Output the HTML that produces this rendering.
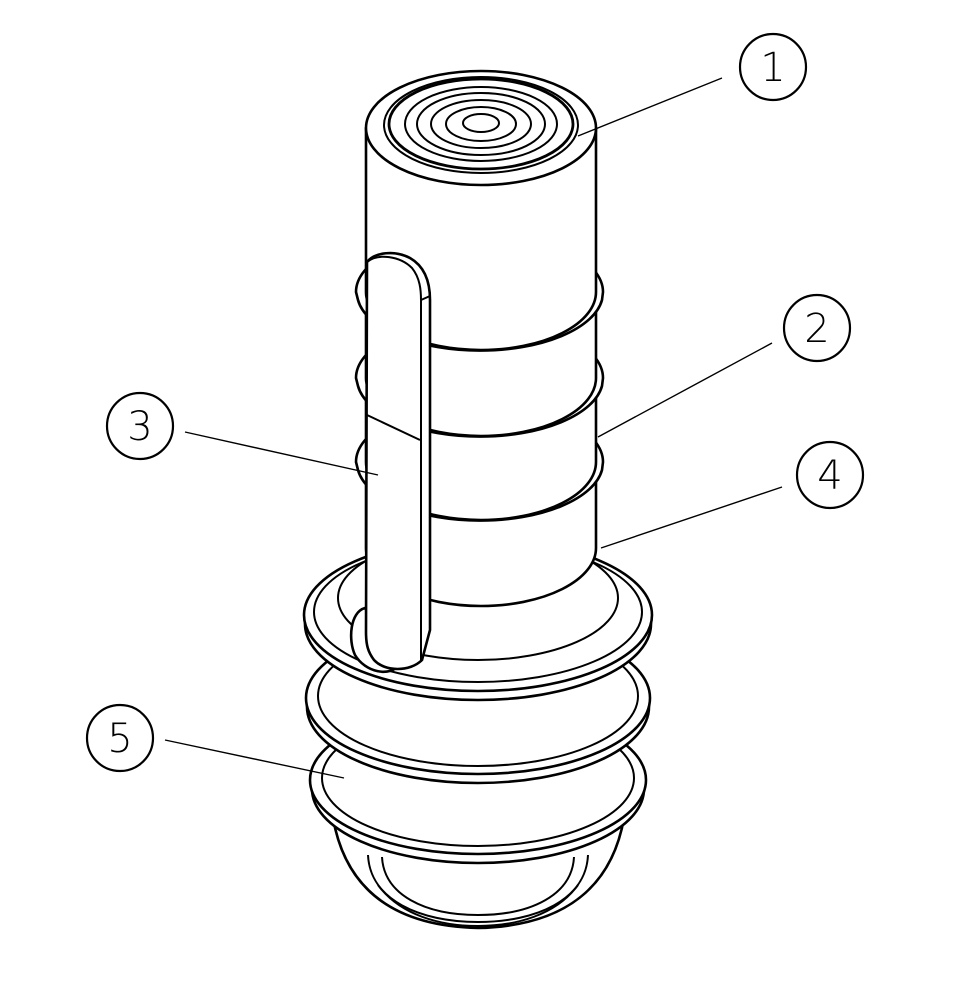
<!DOCTYPE html>
<html><head><meta charset="utf-8"><style>
html,body{margin:0;padding:0;background:#fff;}
svg{display:block;}
text{font-family:"DejaVu Sans","Liberation Sans",sans-serif;font-size:40px;font-weight:200;}
</style></head><body>
<svg width="973" height="993" viewBox="0 0 973 993" xmlns="http://www.w3.org/2000/svg">
<g fill="#fff" stroke="#000" stroke-width="2.6" stroke-linejoin="round">
  <!-- dome -->
  <path d="M333,818 C345,886 390,926 478,928 C566,926 612,886 624,818 Z"/>
  <path d="M368,855 C370,900 420,922 478,922 C536,922 586,900 588,855" fill="none" stroke-width="2"/>
  <path d="M382,857 C384,895 425,915 478,915 C531,915 572,895 574,857" fill="none" stroke-width="2"/>
  <path d="M378,885 C400,915 440,926 478,926 C516,926 556,915 578,885" fill="none" stroke-width="2"/>
  <!-- flange 3 -->
  <ellipse cx="478" cy="789" rx="166" ry="74"/>
  <ellipse cx="478" cy="780" rx="168" ry="74"/>
  <ellipse cx="478" cy="778" rx="156" ry="68" fill="none" stroke-width="2"/>
  <!-- flange 2 -->
  <ellipse cx="478" cy="707" rx="171" ry="76"/>
  <ellipse cx="478" cy="698" rx="172" ry="76"/>
  <ellipse cx="478" cy="696" rx="160" ry="70" fill="none" stroke-width="2"/>
  <!-- flange 1 -->
  <ellipse cx="478" cy="624" rx="173" ry="76"/>
  <ellipse cx="478" cy="615" rx="174" ry="76"/>
  <ellipse cx="478" cy="612" rx="164" ry="70" fill="none" stroke-width="2"/>
  <ellipse cx="478" cy="598" rx="140" ry="62" fill="none" stroke-width="2"/>
  <!-- lower cylinder segment -->
  <path d="M366,462 L366,548 A115,58 0 0 0 596,548 L596,462 Z"/>
  <!-- ring 3 -->
  <path d="M356,462 L358,470 A123,58 0 0 0 602,470 L603,462 A123,58 0 0 0 356,462 Z"/>
  <path d="M366,378 L366,462 A115,58 0 0 0 596,462 L596,378 Z"/>
  <!-- ring 2 -->
  <path d="M356,378 L358,386 A123,58 0 0 0 602,386 L603,378 A123,58 0 0 0 356,378 Z"/>
  <path d="M366,292 L366,378 A115,58 0 0 0 596,378 L596,292 Z"/>
  <!-- ring 1 -->
  <path d="M356,292 L358,300 A123,58 0 0 0 602,300 L603,292 A123,58 0 0 0 356,292 Z"/>
  <!-- top cylinder -->
  <path d="M366,128 L366,292 A115,58 0 0 0 596,292 L596,128 Z"/>
  <ellipse cx="481" cy="128" rx="115" ry="57"/>
  <g fill="none" stroke-width="2">
    <ellipse cx="481" cy="125" rx="97" ry="48"/>
    <ellipse cx="481" cy="124" rx="92" ry="45" stroke-width="2.8"/>
    <ellipse cx="481" cy="124" rx="76" ry="37"/>
    <ellipse cx="481" cy="124" rx="64" ry="31"/>
    <ellipse cx="481" cy="124" rx="50" ry="24"/>
    <ellipse cx="481" cy="124" rx="35" ry="17"/>
    <ellipse cx="481" cy="123" rx="18" ry="9"/>
  </g>
  <!-- handle foot -->
  <path d="M365,608 C350,612 348,640 355,655 C365,672 390,678 400,664 Z"/>
  <!-- handle -->
  <path d="M367,262 C375,252 395,250 410,258 C424,266 430,280 430,300 L430,630 L422,660 C410,672 385,672 374,660 C368,652 366,645 366,632 Z"/>
  <path d="M367,262 C378,253 400,256 412,268 C420,278 421,290 421,300 L421,662" fill="none" stroke-width="2"/>
  <line x1="421" y1="300" x2="430" y2="296" stroke-width="2"/>
  <line x1="367" y1="415" x2="420" y2="440" stroke-width="2"/>
</g>
<!-- leaders -->
<g stroke="#000" stroke-width="1.4" fill="none">
  <line x1="722" y1="78" x2="578" y2="136"/>
  <line x1="772" y1="343" x2="598" y2="437"/>
  <line x1="185" y1="432" x2="378" y2="475"/>
  <line x1="782" y1="487" x2="601" y2="548"/>
  <line x1="165" y1="740" x2="344" y2="778"/>
</g>
<g stroke="#000" stroke-width="2.2" fill="#fff">
  <circle cx="773" cy="67" r="33"/>
  <circle cx="817" cy="328" r="33"/>
  <circle cx="140" cy="426" r="33"/>
  <circle cx="830" cy="475" r="33"/>
  <circle cx="120" cy="738" r="33"/>
</g>
<g text-anchor="middle" fill="#000">
  <text x="773" y="81">1</text>
  <text x="817" y="342">2</text>
  <text x="140" y="440">3</text>
  <text x="830" y="489">4</text>
  <text x="120" y="752">5</text>
</g>
</svg>
</body></html>
